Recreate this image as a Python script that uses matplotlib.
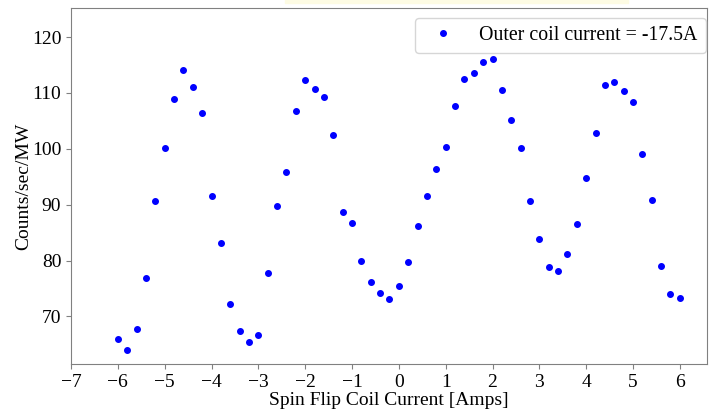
import matplotlib
matplotlib.use("Agg")
import matplotlib.pyplot as plt
from matplotlib.patches import Rectangle

# Corriente de la bobina spin flip (Amps) y cuentas
coil_current = [
    -6.0, -5.8, -5.6, -5.4, -5.2, -5.0, -4.8, -4.6, -4.4, -4.2,
    -4.0, -3.8, -3.6, -3.4, -3.2, -3.0, -2.8, -2.6, -2.4, -2.2,
    -2.0, -1.8, -1.6, -1.4, -1.2, -1.0, -0.8, -0.6, -0.4, -0.2,
    0.0, 0.2, 0.4, 0.6, 0.8, 1.0, 1.2, 1.4, 1.6, 1.8,
    2.0, 2.2, 2.4, 2.6, 2.8, 3.0, 3.2, 3.4, 3.6, 3.8,
    4.0, 4.2, 4.4, 4.6, 4.8, 5.0, 5.2, 5.4, 5.6, 5.8, 6.0,
]
counts = [
    66.0, 64.0, 67.8, 76.8, 90.7, 100.2, 109.0, 114.1, 111.0, 106.5,
    91.6, 83.1, 72.3, 67.4, 65.4, 66.7, 77.8, 89.8, 95.9, 106.8,
    112.4, 110.7, 109.2, 102.5, 88.7, 86.8, 80.0, 76.2, 74.2, 73.2,
    75.4, 79.7, 86.2, 91.6, 96.4, 100.3, 107.7, 112.5, 113.6, 115.6,
    116.0, 110.6, 105.2, 100.2, 90.6, 83.9, 78.9, 78.2, 81.1, 86.5,
    94.7, 102.9, 111.5, 111.9, 110.3, 108.3, 99.0, 90.8, 79.0, 74.1, 73.3,
]
label = "Outer coil current = -17.5A"
x_ticks = list(range(-7, 7))
y_ticks = [70, 80, 90, 100, 110, 120]

plt.rcParams["font.family"] = ["Liberation Serif", "DejaVu Serif"]

fig = plt.figure(figsize=(7.09, 4.09), dpi=100)
ax = fig.add_axes([71 / 709, 1 - 364 / 409, 636 / 709, 356 / 409])

# franja amarilla que aparece arriba en la imagen original
fig.patches.append(Rectangle((285 / 709, 1 - 3 / 409), 343 / 709, 3 / 409,
                             transform=fig.transFigure, color="#fdfbe3", zorder=0))

ax.plot(coil_current, counts, "o", color="blue", markersize=4, label=label)

ax.set_xlim(-7.0, 6.58)
ax.set_ylim(61.5, 125.2)
ax.set_xticks(x_ticks)
ax.set_yticks(y_ticks)
ax.tick_params(labelsize=14, color="#808080")
for s in ax.spines.values():
    s.set_color("#808080")

ax.set_xlabel("Spin Flip Coil Current [Amps]", fontsize=14, labelpad=1)
ax.set_ylabel("Counts/sec/MW", fontsize=14, labelpad=0)
ax.legend(loc="upper right", bbox_to_anchor=(0.998, 0.972), borderaxespad=0,
          fontsize=14.3, handletextpad=0.85, borderpad=0.4)

fig.savefig("out.png", dpi=100)
